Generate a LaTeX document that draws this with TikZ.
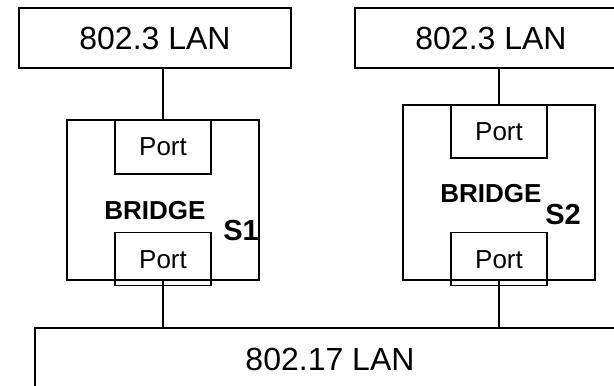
\documentclass[tikz,border=0pt]{standalone}
\usepackage{fontspec}
\setmainfont{Liberation Sans}
\begin{document}
\begin{tikzpicture}[x=1pt,y=-1pt,
  box/.style={draw=black,line width=1.3pt,fill=none,inner sep=0pt,anchor=center},
  lanbox/.style={box,font=\fontsize{32}{36}\selectfont},
  portbox/.style={box,minimum width=96pt,font=\fontsize{26}{30}\selectfont},
  bridgetxt/.style={inner sep=0pt,font=\fontsize{26}{30}\selectfont\bfseries},
  sname/.style={inner sep=0pt,font=\fontsize{29}{33}\selectfont\bfseries},
  wire/.style={draw=black,line width=1.3pt}]
\useasboundingbox (0,0) rectangle (614,386);
\clip (0,0) rectangle (614,386);
\fill[white] (0,0) rectangle (614,386);
% LANs
\node[lanbox,minimum width=272pt,minimum height=60pt] (lan1) at (155,38) {802.3 LAN};
\node[lanbox,minimum width=272pt,minimum height=60pt] (lan2) at (491,38) {802.3 LAN};
\node[lanbox,minimum width=590pt,minimum height=62pt] (lan3) at (330,359) {802.17 LAN};
% Bridge S1
\node[box,minimum width=192pt,minimum height=160pt] (br1) at (163,200) {};
\node[portbox,minimum height=54pt] (p1t) at (163,147) {Port};
\node[portbox,minimum height=53pt] (p1b) at (163,259.3) {Port};
\node[bridgetxt] (b1txt) at (155,211) {BRIDGE};
\node[sname] (s1) at (241,231) {S1};
% Bridge S2
\node[box,minimum width=192pt,minimum height=175pt] (br2) at (499,192.5) {};
\node[portbox,minimum height=53pt] (p2t) at (499,131.5) {Port};
\node[portbox,minimum height=53pt] (p2b) at (499,259.3) {Port};
\node[bridgetxt] (b2txt) at (491,194) {BRIDGE};
\node[sname] (s2) at (563,215) {S2};
% connectors
\draw[wire] (p1t.north |- lan1.south) -- (p1t.north);
\draw[wire] (p2t.north |- lan2.south) -- (p2t.north);
\draw[wire] (br1.south) -- (br1.south |- lan3.north);
\draw[wire] (br2.south) -- (br2.south |- lan3.north);
\end{tikzpicture}
\end{document}
